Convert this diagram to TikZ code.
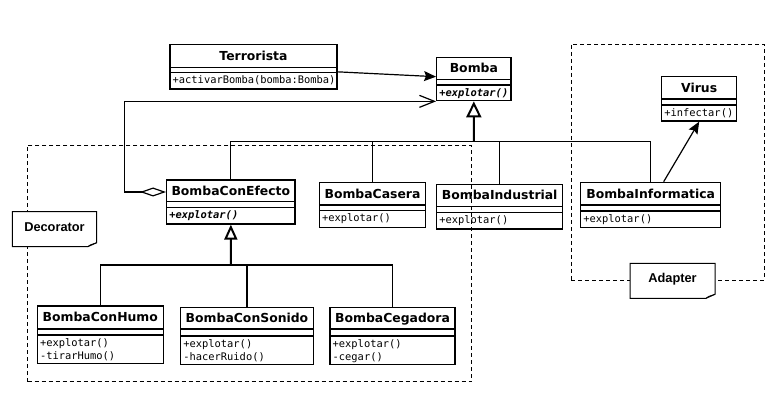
\documentclass[tikz,border=0pt]{standalone}
\usepackage{fontspec}
\usetikzlibrary{arrows.meta,fit,calc}
\newfontfamily\hdrf{DejaVu Sans}
\newfontfamily\monof{DejaVu Sans Mono}
\newfontfamily\notef{Liberation Sans Bold}
\tikzset{
  classbox/.style={draw, fill=white, line width=1.3pt, inner sep=0pt},
  divider/.style={line width=1.3pt},
  titletext/.style={font=\hdrf\bfseries\fontsize{12.4}{14}\selectfont, anchor=base, inner sep=0pt},
  methtext/.style={font=\monof\fontsize{10.4}{13.3}\selectfont, anchor=north west, inner sep=0pt, align=left},
  conn/.style={line width=1.2pt},
  trunk/.style={line width=2pt},
  region/.style={draw, dash pattern=on 4pt off 3pt, line width=0.9pt, inner sep=0pt},
  notebox/.style={inner sep=0pt},
  notetext/.style={font=\notef\fontsize{12.8}{14}\selectfont, inner sep=0pt}
}
\newcommand\umlclass[9]{%
  \node[classbox, fit={(#2,#3) (#4,#7)}] (#1) {};
  \draw[divider] (#2,#5) -- (#4,#5);
  \draw[divider] (#2,#6) -- (#4,#6);
  \node[titletext] (#1-t) at ({(#2+#4)/2},{(#3+#5)/2+4.5}) {#8};
  \node[methtext] (#1-m) at ({#2+2.5},{#6+3}) {#9};
}
\newcommand\umlnote[6]{%
  \fill[white] (#2,#3) -- (#4,#3) -- (#4,{#5-4}) -- ({#4-9},#5) -- (#2,#5) -- cycle;
  \draw[line width=1pt] (#2,#3) -- (#4,#3) -- (#4,{#5-4}) -- ({#4-9},#5) -- (#2,#5) -- cycle;
  \draw[line width=0.8pt] (#4,{#5-4}) -- ({#4-6},{#5-2}) -- ({#4-9},#5);
  \node[notebox, fit={(#2,#3) (#4,#5)}] (#1) {};
  \node[notetext] (#1-t) at ({(#2+#4)/2},{(#3+#5)/2-2}) {#6};
}
\begin{document}
\begin{tikzpicture}[x=1pt,y=-1pt]
\useasboundingbox (0,0) rectangle (780,406);
\fill[white] (0,0) rectangle (780,406);

\umlclass{terr}{170}{44.7}{337}{67.3}{72.7}{89}{Terrorista}{+activarBomba(bomba:Bomba)}
\umlclass{bomba}{436.7}{57.7}{511}{79.3}{85}{100.7}{Bomba}{\bfseries\itshape +explotar()}
\umlclass{bce}{166.7}{180}{295}{201.7}{207.3}{224}{BombaConEfecto}{\bfseries\itshape +explotar()}
\umlclass{casera}{319.3}{182.3}{425.7}{205}{210.7}{227.3}{BombaCasera}{+explotar()}
\umlclass{industrial}{436.7}{184.3}{562.7}{206.7}{212.7}{229}{BombaIndustrial}{+explotar()}
\umlclass{informatica}{580.7}{182.3}{720.7}{205}{211}{227.3}{BombaInformatica}{+explotar()}
\umlclass{virus}{661.7}{76.7}{736.7}{99}{105}{121}{Virus}{+infectar()}
\umlclass{humo}{37.3}{306}{163.3}{329}{335}{363.3}{BombaConHumo}{+explotar()\\-tirarHumo()}
\umlclass{sonido}{180.7}{307.3}{313.3}{329}{336}{364.3}{BombaConSonido}{+explotar()\\-hacerRuido()}
\umlclass{cegadora}{330}{307.3}{455}{329}{336}{364.3}{BombaCegadora}{+explotar()\\-cegar()}

% Terrorista -> Bomba
\draw[conn, -{Stealth[length=12pt,width=10pt,inset=2pt]}] ([yshift=-5pt]terr.east) -- ([yshift=2.5pt]bomba.west);

% aggregation BombaConEfecto -> Bomba
\draw[conn, {Diamond[open,length=26pt,width=9pt]}-{Straight Barb[length=15pt,width=12pt]}]
  ([yshift=10pt]bce.west) -- ++(-41.7,0) |- (bomba.south west);

% inheritance to Bomba
\coordinate (j1) at (473.8,141.5);
\draw[trunk, -{Triangle[open,length=16pt,width=15pt]}] (j1) -- (bomba.south);
\draw[conn] (bce.north) |- (j1);
\draw[conn] (casera.north) |- (j1);
\draw[conn] (industrial.north) |- (j1);
\draw[conn] (informatica.north) |- (j1);
\draw[line width=1.8pt] (casera.north |- j1) -- (industrial.north |- j1);

% inheritance to BombaConEfecto
\coordinate (j2) at (230.8,265);
\draw[trunk, -{Triangle[open,length=15pt,width=13pt]}] (j2) -- (bce.south);
\draw[conn] (humo.north) |- (j2);
\draw[conn] (sonido.north) |- (j2);
\draw[conn] (cegadora.north) |- (j2);
\draw[line width=1.8pt] (j2) -- (sonido.north |- j2);

% BombaInformatica -> Virus
\draw[conn, -{Stealth[length=12pt,width=10pt,inset=2pt]}] ([xshift=13pt]informatica.north) -- (virus.south);

% regions
\node[region, fit={(27.7,145) (471.7,381.7)}] (decreg) {};
\node[region, fit={(571,44) (764,280)}] (adreg) {};

% notes
\umlnote{decnote}{12.3}{211.7}{96.7}{246.7}{Decorator}
\umlnote{adnote}{630}{263.3}{715}{298.3}{Adapter}
\end{tikzpicture}
\end{document}
